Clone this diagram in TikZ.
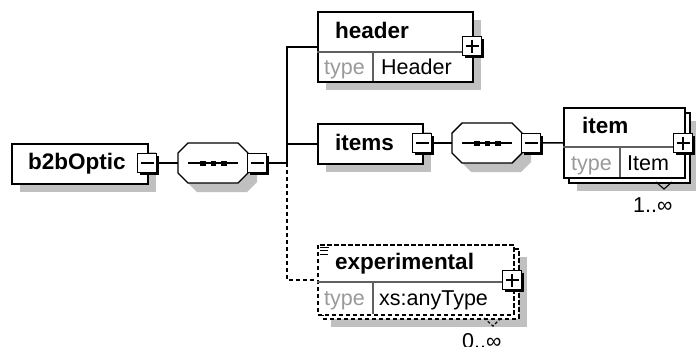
\documentclass[tikz,border=0pt]{standalone}
\usepackage{fontspec}
\setmainfont{Liberation Sans}
\usetikzlibrary{shadows}
\definecolor{shadowgray}{HTML}{C0C0C0}
\definecolor{typegray}{HTML}{9A9A9A}
\definecolor{divgray}{HTML}{606060}
\begin{document}
\begin{tikzpicture}[x=1pt,y=-1pt,
  conn/.style={line width=1.5pt, draw=black},
  dconn/.style={conn, dash pattern=on 4pt off 3pt},
  elbox/.style={rectangle, draw=black, line width=1.5pt, fill=white, inner sep=0pt, anchor=north west},
  delbox/.style={elbox, dash pattern=on 4.5pt off 2.5pt},
  shad/.style={drop shadow={shadow xshift=8pt, shadow yshift=-8pt, fill=shadowgray, opacity=1}},
  pmbox/.style={rectangle, draw=black, line width=1.2pt, fill=white, minimum size=19pt, inner sep=0pt,
    drop shadow={shadow xshift=2pt, shadow yshift=-2pt, fill=black, opacity=1}},
  minusbox/.style={pmbox, path picture={\draw[line width=1.3pt] ([xshift=3pt]path picture bounding box.west) -- ([xshift=-3pt]path picture bounding box.east);}},
  plusbox/.style={pmbox, path picture={\draw[line width=1.3pt] ([xshift=3pt]path picture bounding box.west) -- ([xshift=-3pt]path picture bounding box.east) ([yshift=-3pt]path picture bounding box.north) -- ([yshift=3pt]path picture bounding box.south);}},
  seqarea/.style={rectangle, draw=none, minimum width=70pt, minimum height=40pt, inner sep=0pt},
  seqshape/.style={draw=black, line width=1.4pt, fill=white},
  seqshadow/.style={fill=shadowgray},
  divider/.style={draw=divgray, line width=1.1pt},
  elname/.style={font=\fontsize{22.5}{26}\selectfont\bfseries, inner sep=0pt, anchor=base west, text=black},
  typelab/.style={font=\fontsize{21.5}{24}\selectfont, inner sep=0pt, anchor=base west, text=typegray},
  typeval/.style={font=\fontsize{21.5}{24}\selectfont, inner sep=0pt, anchor=base west, text=black},
  card/.style={font=\fontsize{21.5}{24}\selectfont, inner sep=0pt, anchor=base west, text=black},
  dot/.style={fill=black}
]
\useasboundingbox (0,0) rectangle (696,346);

% ---------- b2bOptic ----------
\node[elbox, shad, minimum width=136pt, minimum height=40pt] (b2b) at (11,143) {};
\node[elname] (tb2b) at (28,169) {b2bOptic};
\node[minusbox] (b2bm) at (147,163) {};

% ---------- sequence 1 ----------
\fill[seqshadow] (187,162) -- (197,152) -- (247,152) -- (257,162) -- (257,182) -- (247,192) -- (197,192) -- (187,182) -- cycle;
\draw[seqshape] (178,153) -- (188,143) -- (238,143) -- (248,153) -- (248,173) -- (238,183) -- (188,183) -- (178,173) -- cycle;
\node[seqarea] (seq1) at (213,163) {};
\draw[line width=1.3pt] (188,163) -- (238,163);
\fill[dot] (200,160.5) rectangle (205.5,166);
\fill[dot] (210.5,160.5) rectangle (216,166);
\fill[dot] (221,160.5) rectangle (226.5,166);
\node[minusbox] (seq1m) at (257,163) {};
\coordinate (J) at (287,163);

% ---------- header ----------
\node[elbox, shad, minimum width=155pt, minimum height=70pt] (header) at (317,11) {};
\draw[divider] (317,52) -- (472,52);
\draw[divider] (373,52) -- (373,81);
\node[elname] (theader) at (335,38) {header};
\node[typelab] (ttype1) at (324,74) {type};
\node[typeval] (tHeader) at (381,74) {Header};
\node[plusbox] (headerp) at (472,46) {};

% ---------- items ----------
\node[elbox, shad, minimum width=105pt, minimum height=40pt] (items) at (317,123) {};
\node[elname] (titems) at (335,150) {items};
\node[minusbox] (itemsm) at (422,143) {};

% ---------- sequence 2 ----------
\fill[seqshadow] (461,142) -- (471,132) -- (521,132) -- (531,142) -- (531,162) -- (521,172) -- (471,172) -- (461,162) -- cycle;
\draw[seqshape] (452,133) -- (462,123) -- (512,123) -- (522,133) -- (522,153) -- (512,163) -- (462,163) -- (452,153) -- cycle;
\node[seqarea] (seq2) at (487,143) {};
\draw[line width=1.3pt] (462,143) -- (512,143);
\fill[dot] (474,140.5) rectangle (479.5,146);
\fill[dot] (484.5,140.5) rectangle (490,146);
\fill[dot] (495,140.5) rectangle (500.5,146);
\node[minusbox] (seq2m) at (531,143) {};

% ---------- item ----------
\node[elbox, shad, minimum width=121pt, minimum height=70pt] (itemback) at (568,112) {};
\node[elbox, minimum width=121pt, minimum height=70pt] (item) at (563,107) {};
\draw[divider] (563,147) -- (684,147);
\draw[divider] (620,147) -- (620,177);
\node[elname] (titem) at (582,133) {item};
\node[typelab] (ttype2) at (571,170) {type};
\node[typeval] (tItem) at (627,170) {Item};
\node[plusbox] (itemp) at (683,143) {};
\draw[line width=1.1pt] (656,182) -- (664,189) -- (672,182);
\node[card] (tcard1) at (633,212) {1..∞};

% ---------- experimental ----------
\node[delbox, shad, minimum width=196pt, minimum height=70pt] (expback) at (322,248) {};
\node[delbox, minimum width=196pt, minimum height=70pt] (exp) at (317,244) {};
\draw[divider] (317,282) -- (513,282);
\draw[divider] (373,282) -- (373,314);
\draw[line width=1pt] (320,247) -- (329,247) (320,250.5) -- (328,250.5) (320,254) -- (328,254);
\node[elname] (texp) at (335,269) {experimental};
\node[typelab] (ttype3) at (324,305) {type};
\node[typeval] (tany) at (379,305) {xs:anyType};
\node[plusbox] (expp) at (512,280) {};
\draw[line width=1.1pt, dash pattern=on 3pt off 2pt] (484,318) -- (493,326) -- (501,318);
\node[card] (tcard2) at (462,348) {0..∞};

% ---------- connectors ----------
\draw[conn] (b2bm.east) -- (seq1.west);
\draw[conn] (seq1m.east) -- (J);
\draw[conn] (J) |- (header.west);
\draw[conn] (J |- items.west) -- (items.west);
\draw[dconn] (J) |- (exp.west);
\draw[conn] (itemsm.east) -- (seq2.west);
\draw[conn] (seq2m.east) -- (item.west);
\end{tikzpicture}
\end{document}
